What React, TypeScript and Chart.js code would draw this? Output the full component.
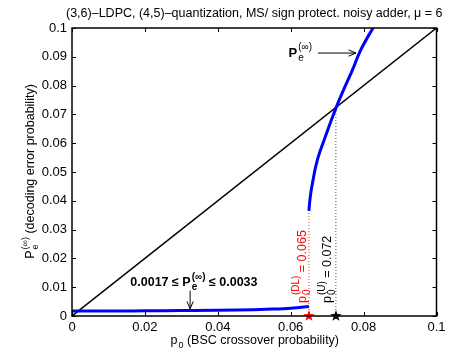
import React, { useEffect, useRef } from 'react';
import { Chart, registerables } from 'chart.js';
Chart.register(...registerables);

const lowerX = [0, 0.01, 0.02, 0.03, 0.04, 0.05, 0.055, 0.06, 0.063, 0.065];
const lowerY = [0.0017, 0.0017, 0.0018, 0.0019, 0.002, 0.0022, 0.0024, 0.0027, 0.003, 0.0033];
const upperX = [0.065, 0.0652, 0.0656, 0.0661, 0.0667, 0.0675, 0.069, 0.071, 0.0726, 0.0745, 0.0768, 0.079, 0.0835];
const upperY = [0.0365, 0.0395, 0.0435, 0.047, 0.051, 0.055, 0.0605, 0.0675, 0.0728, 0.0785, 0.085, 0.0918, 0.102];
const diagX = [0, 0.1];
const diagY = [0, 0.1];
const pDL = 0.065;
const pDLTop = 0.0365;
const pU = 0.0724;
const pUTop = 0.0728;
const xTicks = [0, 0.02, 0.04, 0.06, 0.08, 0.1];
const yTicks = [0, 0.01, 0.02, 0.03, 0.04, 0.05, 0.06, 0.07, 0.08, 0.09, 0.1];

const FONT = '"Liberation Sans", Arial, Helvetica, sans-serif';

type Seg = { t?: string; sup?: string; sub?: string; bold?: boolean };

function font(size: number, bold: boolean) {
  return `${bold ? 'bold ' : ''}${size}px ${FONT}`;
}

function richWidth(ctx: CanvasRenderingContext2D, segs: Seg[], size: number, bold: boolean, ratio: number) {
  let w = 0;
  const small = Math.round(size * ratio);
  for (const s of segs) {
    const b = s.bold ?? bold;
    if (s.t !== undefined) {
      ctx.font = font(size, b);
      w += ctx.measureText(s.t).width;
    } else {
      ctx.font = font(small, b);
      w += Math.max(s.sup ? ctx.measureText(s.sup).width : 0, s.sub ? ctx.measureText(s.sub).width : 0);
    }
  }
  return w;
}

function drawRich(ctx: CanvasRenderingContext2D, segs: Seg[], x: number, y: number, size: number, bold: boolean, color: string, align: 'left' | 'center', ratio = 0.72) {
  const small = Math.round(size * ratio);
  let cx = align === 'center' ? x - richWidth(ctx, segs, size, bold, ratio) / 2 : x;
  ctx.fillStyle = color;
  ctx.textAlign = 'left';
  ctx.textBaseline = 'alphabetic';
  for (const s of segs) {
    const b = s.bold ?? bold;
    if (s.t !== undefined) {
      ctx.font = font(size, b);
      ctx.fillText(s.t, cx, y);
      cx += ctx.measureText(s.t).width;
    } else {
      ctx.font = font(small, b);
      let w = 0;
      if (s.sup) {
        ctx.fillText(s.sup, cx + 1, y - size * 0.5);
        w = Math.max(w, ctx.measureText(s.sup).width + 1);
      }
      if (s.sub) {
        ctx.fillText(s.sub, cx + 1, y + size * 0.32);
        w = Math.max(w, ctx.measureText(s.sub).width + 1);
      }
      cx += w;
    }
  }
}

function arrow(ctx: CanvasRenderingContext2D, x1: number, y1: number, x2: number, y2: number) {
  const ang = Math.atan2(y2 - y1, x2 - x1);
  const L = 8, a = 0.4;
  ctx.save();
  ctx.strokeStyle = '#000';
  ctx.lineWidth = 1;
  ctx.beginPath();
  ctx.moveTo(x1, y1);
  ctx.lineTo(x2, y2);
  ctx.moveTo(x2 - L * Math.cos(ang - a), y2 - L * Math.sin(ang - a));
  ctx.lineTo(x2, y2);
  ctx.lineTo(x2 - L * Math.cos(ang + a), y2 - L * Math.sin(ang + a));
  ctx.stroke();
  ctx.restore();
}

function starCanvas(color: string, r: number) {
  const c = document.createElement('canvas');
  const s = Math.ceil(r * 2 + 2);
  c.width = s;
  c.height = s;
  const g = c.getContext('2d')!;
  g.fillStyle = color;
  g.beginPath();
  for (let i = 0; i < 10; i++) {
    const rad = i % 2 === 0 ? r : r * 0.4;
    const ang = -Math.PI / 2 + (i * Math.PI) / 5;
    const px = s / 2 + rad * Math.cos(ang);
    const py = s / 2 + rad * Math.sin(ang);
    if (i === 0) g.moveTo(px, py);
    else g.lineTo(px, py);
  }
  g.closePath();
  g.fill();
  return c;
}

const decor = {
  id: 'decor',
  afterDraw(chart: any) {
    const ctx: CanvasRenderingContext2D = chart.ctx;
    const { left, right, top, bottom } = chart.chartArea;
    const xs = chart.scales.x;
    const ys = chart.scales.y;
    ctx.save();
    // frame
    ctx.strokeStyle = '#000';
    ctx.lineWidth = 1.5;
    ctx.strokeRect(left, top, right - left, bottom - top);
    // ticks inward
    const tl = 4;
    ctx.lineWidth = 1;
    ctx.beginPath();
    for (const v of xTicks) {
      const px = Math.round(xs.getPixelForValue(v)) + 0.5;
      ctx.moveTo(px, bottom);
      ctx.lineTo(px, bottom - tl);
      ctx.moveTo(px, top);
      ctx.lineTo(px, top + tl);
    }
    for (const v of yTicks) {
      const py = Math.round(ys.getPixelForValue(v)) + 0.5;
      ctx.moveTo(left, py);
      ctx.lineTo(left + tl, py);
      ctx.moveTo(right, py);
      ctx.lineTo(right - tl, py);
    }
    ctx.stroke();

    const cxm = (left + right) / 2;
    // title
    drawRich(ctx, [{ t: '(3,6)\u2013LDPC, (4,5)\u2013quantization, MS/ sign protect. noisy adder, \u03bc = 6' }], cxm, 17, 12.5, false, '#000', 'center');
    // x label
    drawRich(ctx, [{ t: 'p' }, { sub: '0' }, { t: ' (BSC crossover probability)' }], cxm, 344, 12.5, false, '#000', 'center');
    // y label
    ctx.save();
    ctx.translate(34, (top + bottom) / 2);
    ctx.rotate(-Math.PI / 2);
    drawRich(ctx, [{ t: 'P' }, { sup: '(\u221e)', sub: 'e' }, { t: ' (decoding error probability)' }], 0, 0, 12.5, false, '#000', 'center');
    ctx.restore();

    // annotation top right
    const ax = xs.getPixelForValue(0.0594);
    const ay = ys.getPixelForValue(0.0900);
    drawRich(ctx, [{ t: 'P' }, { sup: '(\u221e)', sub: 'e', bold: false }], ax, ay, 13, true, '#000', 'left', 0.8);
    arrow(ctx, xs.getPixelForValue(0.0675), ys.getPixelForValue(0.0913), xs.getPixelForValue(0.0779), ys.getPixelForValue(0.0913));

    // annotation bottom
    drawRich(ctx, [{ t: '0.0017 \u2264 P' }, { sup: '(\u221e)', sub: 'e' }, { t: ' \u2264 0.0033' }], xs.getPixelForValue(0.016), ys.getPixelForValue(0.0104), 12.5, true, '#000', 'left', 0.8);
    arrow(ctx, xs.getPixelForValue(0.0324), ys.getPixelForValue(0.0088), xs.getPixelForValue(0.0324), ys.getPixelForValue(0.0025));

    // rotated threshold labels
    ctx.save();
    ctx.translate(xs.getPixelForValue(0.0641), ys.getPixelForValue(0.0045));
    ctx.rotate(-Math.PI / 2);
    drawRich(ctx, [{ t: 'p' }, { sup: '(DL)', sub: '0' }, { t: ' = 0.065' }], 0, 0, 12.5, false, '#ff0000', 'left', 0.8);
    ctx.restore();
    ctx.save();
    ctx.translate(xs.getPixelForValue(0.0711), ys.getPixelForValue(0.0045));
    ctx.rotate(-Math.PI / 2);
    drawRich(ctx, [{ t: 'p' }, { sup: '(U)', sub: '0' }, { t: ' = 0.072' }], 0, 0, 12.5, false, '#000', 'left', 0.8);
    ctx.restore();

    ctx.restore();
  },
};

export default function App() {
  const ref = useRef<HTMLCanvasElement>(null);
  useEffect(() => {
    document.body.style.margin = '0';
    const redStar = starCanvas('#ff0000', 6);
    const blackStar = starCanvas('#000000', 6);
    const chart = new Chart(ref.current!, {
      type: 'scatter',
      data: {
        datasets: [
          {
            data: lowerX.map((x, i) => ({ x, y: lowerY[i] })),
            showLine: true, borderColor: '#0000ff', borderWidth: 3, pointRadius: 0,
            cubicInterpolationMode: 'monotone', order: 0,
          },
          {
            data: upperX.map((x, i) => ({ x, y: upperY[i] })),
            showLine: true, borderColor: '#0000ff', borderWidth: 3, pointRadius: 0,
            cubicInterpolationMode: 'monotone', order: 0,
          },
          {
            data: diagX.map((x, i) => ({ x, y: diagY[i] })),
            showLine: true, borderColor: '#000', borderWidth: 1.5, pointRadius: 0, order: 2,
          },
          {
            data: [{ x: pDL, y: 0 }, { x: pDL, y: pDLTop }],
            showLine: true, borderColor: '#ff3030', borderWidth: 1, borderDash: [1, 2], pointRadius: 0, order: 3,
          },
          {
            data: [{ x: pU, y: 0 }, { x: pU, y: pUTop }],
            showLine: true, borderColor: '#555', borderWidth: 1, borderDash: [1, 2], pointRadius: 0, order: 3,
          },
          {
            data: [{ x: pDL, y: 0 }],
            pointStyle: redStar as any, pointRadius: 6, clip: false as any, order: -1,
          },
          {
            data: [{ x: pU, y: 0 }],
            pointStyle: blackStar as any, pointRadius: 6, clip: false as any, order: -1,
          },
        ] as any,
      },
      options: {
        responsive: false,
        animation: false,
        devicePixelRatio: 1,
        layout: { padding: { top: 28, right: 39.5, left: 0, bottom: 0 } },
        plugins: { legend: { display: false }, tooltip: { enabled: false }, title: { display: false } },
        scales: {
          x: {
            type: 'linear', min: 0, max: 0.1,
            afterBuildTicks: (s: any) => { s.ticks = xTicks.map((v) => ({ value: v })); },
            afterFit: (s: any) => { s.height = 38; },
            grid: { display: false, drawTicks: false },
            border: { display: false },
            ticks: {
              padding: 4, color: '#000', maxRotation: 0, autoSkip: false,
              font: { family: FONT, size: 13 },
              callback: (v: any) => String(+Number(v).toFixed(4)),
            },
          },
          y: {
            type: 'linear', min: 0, max: 0.1,
            afterBuildTicks: (s: any) => { s.ticks = yTicks.map((v) => ({ value: v })); },
            afterFit: (s: any) => { s.width = 72; },
            grid: { display: false, drawTicks: false },
            border: { display: false },
            ticks: {
              padding: 5, color: '#000', autoSkip: false,
              font: { family: FONT, size: 13 },
              callback: (v: any) => String(+Number(v).toFixed(4)),
            },
          },
        },
      },
      plugins: [decor],
    });
    return () => chart.destroy();
  }, []);
  return (
    <div style={{ width: 476, height: 354, position: 'relative' }}>
      <canvas ref={ref} width={476} height={354} style={{ display: 'block' }} />
    </div>
  );
}
